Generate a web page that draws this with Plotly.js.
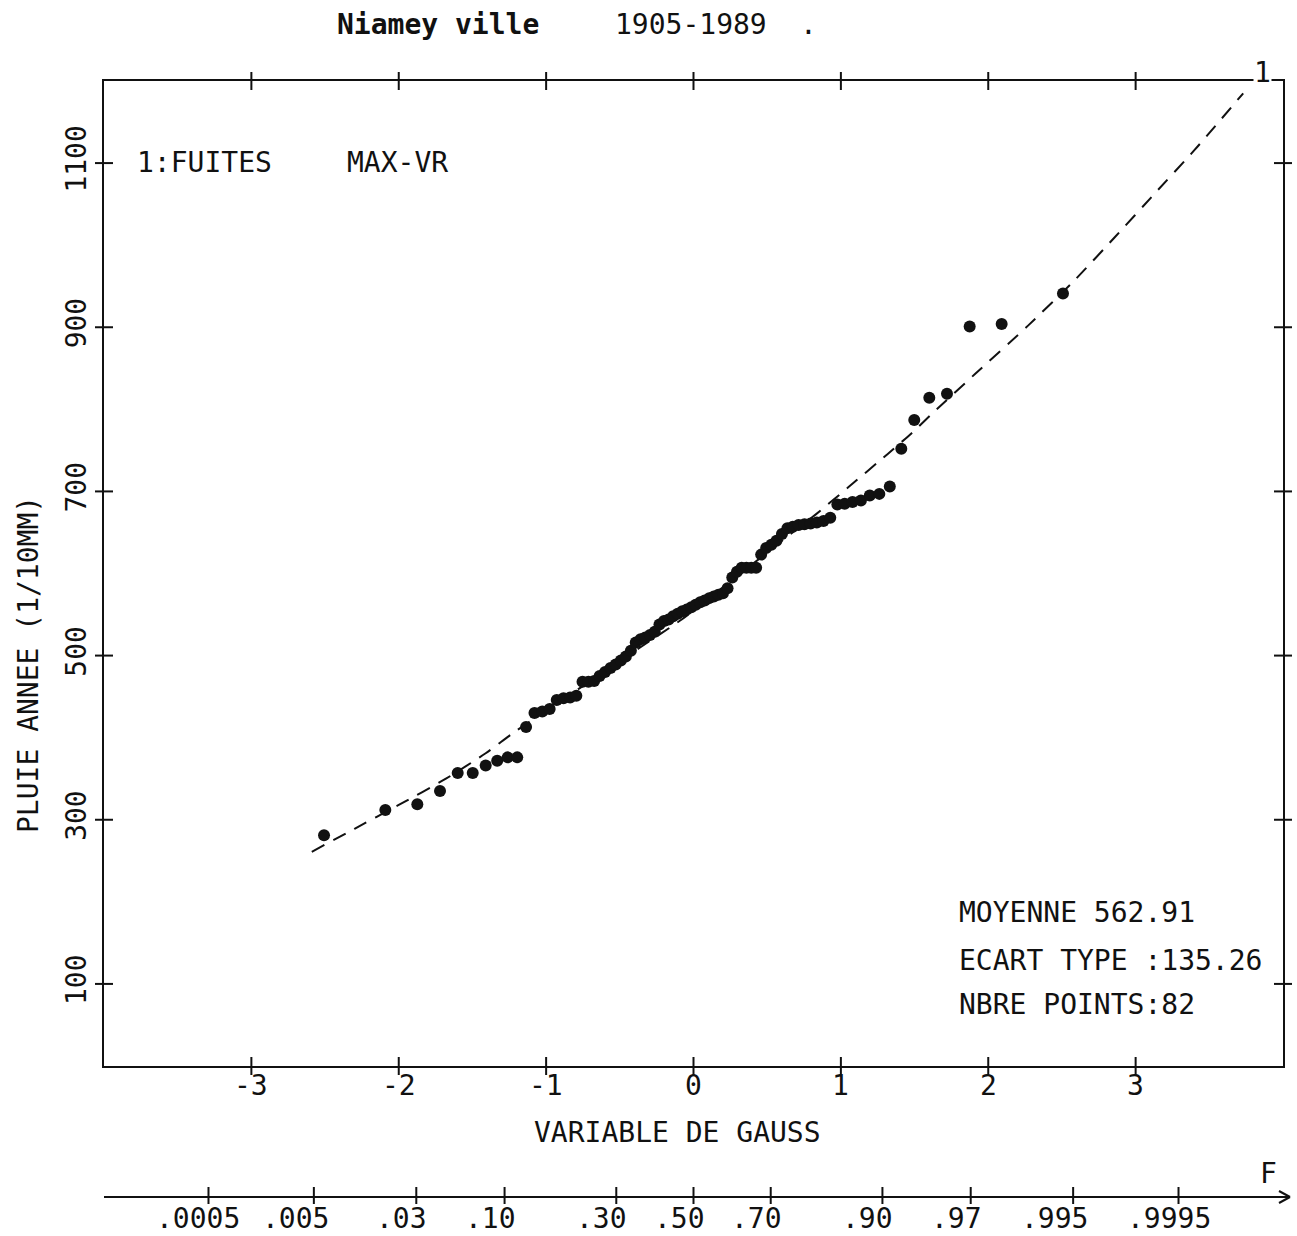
<!DOCTYPE html>
<html><head><meta charset="utf-8">
<script src="https://cdn.plot.ly/plotly-3.0.1.min.js"></script>
<style>html,body{margin:0;padding:0;background:#fff}</style>
</head><body>
<div id="chart" style="width:1297px;height:1236px"></div>
<script>
// ---- data ----
const gaussZ = [-2.507,-2.091,-1.874,-1.720,-1.600,-1.498,-1.410,-1.332,-1.261,-1.196,
  -1.136,-1.079,-1.026,-0.976,-0.928,-0.882,-0.837,-0.795,-0.753,-0.713,
  -0.674,-0.637,-0.600,-0.563,-0.528,-0.493,-0.459,-0.425,-0.392,-0.359,
  -0.327,-0.295,-0.263,-0.231,-0.200,-0.169,-0.138,-0.107,-0.076,-0.046,
  -0.015,0.015,0.046,0.076,0.107,0.138,0.169,0.200,0.231,0.263,
  0.295,0.327,0.359,0.392,0.425,0.459,0.493,0.528,0.563,0.600,
  0.637,0.674,0.713,0.753,0.795,0.837,0.882,0.928,0.976,1.026,
  1.079,1.136,1.196,1.261,1.332,1.410,1.498,1.600,1.720,1.874,
  2.091,2.507];
const rainfall = [281,312,319,335,357,357,366,372,376,376,
  413,430,432,435,446,448,449,451,468,468,
  469,475,480,485,489,494,499,506,516,520,
  522,525,529,538,542,544,548,551,554,556,
  559,562,565,567,570,572,574,576,582,595,
  602,607,607,607,607,623,631,635,640,648,
  655,657,659,660,661,662,664,668,684,685,
  687,689,695,697,706,752,787,814,819,901,
  904,941];
const fitZ = [-2.59,-2.30,-2.00,-1.68,-1.41,-1.23,-1.00,-0.70,-0.37,-0.08,0.25,0.58,0.83,1.05,1.32,1.48,1.65,1.91,2.27,2.59,2.86,3.13,3.40,3.73];
const fitRain = [261,289,318,350,381,405,433,469,509,544,590,637,672,705,746,771,800,843,902,958,1010,1063,1116,1185];
const xTickVals = [-3,-2,-1,0,1,2,3];
const xTickText = ['-3','-2','-1','0','1','2','3'];
const yTickVals = [100,300,500,700,900,1100];
const yTickText = ['100','300','500','700','900','1100'];
const probLabels = ['.0005','.005','.03','.10','.30','.50','.70','.90','.97','.995','.9995'];
const probZ = [-3.291,-2.576,-1.881,-1.282,-0.524,0,0.524,1.282,1.881,2.576,3.291];
const titleParts = ['Niamey ville','1905-1989','.'];
const stats = ['MOYENNE 562.91','ECART TYPE :135.26','NBRE POINTS:82'];

// ---- layout geometry (pixels) ----
const L=104, R=1283, T=81, B=1066, FAX=1197;
const px = x => (x-L)/(R-L);
const py = y => (FAX-y)/(FAX-T);
const domBottom = py(B);
const FONT = 'DejaVu Sans Mono';
const fnt = (s, w) => ({family: FONT, size: s, color: '#111', weight: w || 'normal'});
const blk = {color:'#111', width:2};

const shapes = [];
xTickVals.forEach(v => {
  [domBottom, 1].forEach(a => shapes.push({type:'line', xref:'x', x0:v, x1:v, yref:'paper',
    ysizemode:'pixel', yanchor:a, y0:-9, y1:9, line:blk}));
});
yTickVals.forEach(v => {
  [0, 1].forEach(a => shapes.push({type:'line', yref:'y', y0:v, y1:v, xref:'paper',
    xsizemode:'pixel', xanchor:a, x0:-9, x1:9, line:blk}));
});
// probability (F) axis
shapes.push({type:'line', xref:'paper', yref:'paper', x0:0, x1:px(1290), y0:0, y1:0, line:blk});
shapes.push({type:'line', xref:'paper', yref:'paper', ysizemode:'pixel', yanchor:0, x0:px(1279), x1:px(1290), y0:6, y1:0, line:blk});
shapes.push({type:'line', xref:'paper', yref:'paper', ysizemode:'pixel', yanchor:0, x0:px(1279), x1:px(1290), y0:-6, y1:0, line:blk});
probZ.forEach(z => shapes.push({type:'line', xref:'x', x0:z, x1:z, yref:'paper',
  ysizemode:'pixel', yanchor:0, y0:-7, y1:10, line:blk}));

const ann = [];
const txt = (text, x, y, xanchor, extra) => Object.assign({text, xref:'paper', yref:'paper',
  x:px(x), y:py(y), xanchor:xanchor, yanchor:'middle', showarrow:false, font:fnt(28)}, extra||{});
ann.push(txt(titleParts[0], 335, 25, 'left', {font:fnt(28,'bold')}));
ann.push(txt(titleParts[1], 613, 25, 'left'));
ann.push(txt(titleParts[2], 808, 25, 'center'));
ann.push(txt('1:FUITES', 135, 162, 'left'));
ann.push(txt('MAX-VR', 345, 162, 'left'));
stats.forEach((s,i) => ann.push(txt(s, 957, [913,960,1005][i], 'left')));
ann.push(txt('VARIABLE DE GAUSS', 677, 1132, 'center'));
ann.push(txt('PLUIE ANNEE (1/10MM)', 28, 665, 'center', {textangle:-90}));
ann.push(txt('F', 1268, 1173, 'center'));
ann.push(txt('1', 1262, 73, 'center', {bgcolor:'#fff', borderpad:0}));
// Gauss axis tick labels
xTickVals.forEach((v, i) => ann.push({text:xTickText[i], xref:'x', x:v, yref:'paper', y:py(1085),
  xanchor:'center', yanchor:'middle', showarrow:false, font:fnt(28)}));
// probability labels
probLabels.forEach((lab, i) => ann.push({text:lab, xref:'x', x:probZ[i], yref:'paper', y:py(1218),
  xanchor:'left', yanchor:'middle', xshift: lab.length <= 3 ? -42 : -54,
  showarrow:false, font:fnt(28)}));

const traces = [
  {x: fitZ, y: fitRain, mode:'lines', line:{color:'#111', width:2, dash:'14px,10px', shape:'spline', smoothing:0.6}, hoverinfo:'skip'},
  {x: gaussZ, y: rainfall, mode:'markers', marker:{color:'#111', size:12}}
];

const layout = {
  width:1297, height:1236, showlegend:false,
  paper_bgcolor:'#fff', plot_bgcolor:'#fff',
  margin:{l:L, r:1297-R, t:T, b:1236-FAX, pad:0},
  xaxis:{range:[-4,4], domain:[0,1], anchor:'y', showline:true, mirror:true, linecolor:'#111', linewidth:2,
    showgrid:false, zeroline:false, ticks:'', showticklabels:false},
  yaxis:{range:[0,1200], domain:[domBottom,1], anchor:'x', showline:true, mirror:true, linecolor:'#111', linewidth:2,
    showgrid:false, zeroline:false, ticks:'', tickvals:yTickVals, ticktext:yTickText,
    tickangle:-90, tickfont:fnt(28), ticklabelstandoff:5},
  shapes: shapes,
  annotations: ann
};
Plotly.newPlot('chart', traces, layout, {staticPlot:true, displayModeBar:false});
</script>
</body></html>
